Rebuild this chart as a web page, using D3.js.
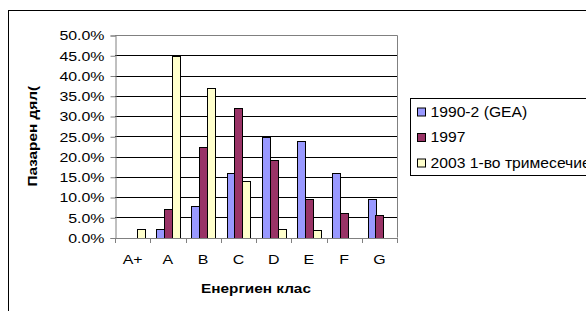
<!DOCTYPE html>
<html>
  <script src="https://d3js.org/d3.v7.js"></script>
  <style>
    body { margin: 0; background: #fff; }
    text { font-family: "Liberation Sans", Arial, sans-serif; fill: #000; }
  </style>
  <body>
    <svg id="chart" width="586" height="311"></svg>
    <script>
      // chart data
      const classes = ["A+", "A", "B", "C", "D", "E", "F", "G"];
      const seriesNames = ["1990-2 (GEA)", "1997", "2003 1-во тримесечие"];
      const gea = [0, 2.0, 7.9, 16.0, 24.8, 23.9, 16.0, 9.4];
      const y1997 = [0, 7.0, 22.4, 32.0, 19.1, 9.4, 6.1, 5.5];
      const y2003 = [2.1, 44.7, 36.9, 13.9, 2.1, 1.8, 0, 0];
      const yTicks = [0, 5, 10, 15, 20, 25, 30, 35, 40, 45, 50];
      const colors = ["#9999FF", "#993366", "#FFFFCC"];

      const seriesValues = [gea, y1997, y2003];
      const sx = 1.18; // the text in the picture is a bit stretched sideways

      const svg = d3.select("#chart");

      // outer chart border
      svg.append("rect")
        .attr("x", 8.5).attr("y", 10.5)
        .attr("width", 600).attr("height", 320)
        .attr("fill", "none").attr("stroke", "#000");

      const pLeft = 115, pRight = 397, pTop = 35, pBottom = 237.5;

      const x = d3.scaleBand().domain(classes).range([pLeft, pRight]);
      const xs = d3.scaleBand().domain(d3.range(seriesNames.length))
        .range([0, x.bandwidth()]).paddingInner(0).paddingOuter(0.75);
      const y = d3.scaleLinear().domain([0, 50]).range([pBottom, pTop]);

      // grid lines
      svg.append("g").selectAll("line")
        .data(yTicks.slice(1, -1))
        .join("line")
        .attr("x1", pLeft).attr("x2", pRight)
        .attr("y1", d => Math.round(y(d)) + 0.5)
        .attr("y2", d => Math.round(y(d)) + 0.5)
        .attr("stroke", "#000");

      // plot area border (top and right)
      svg.append("path")
        .attr("d", "M" + pLeft + "," + (Math.round(y(50)) + 0.5) + "H" + (pRight + 0.5) + "V" + pBottom)
        .attr("fill", "none").attr("stroke", "#808080");

      // bars
      seriesValues.forEach(function (vals, si) {
        svg.append("g").selectAll("rect")
          .data(vals.map((v, i) => ({ c: classes[i], v: v })).filter(d => d.v > 0))
          .join("rect")
          .attr("x", d => Math.round(x(d.c) + xs(si)) + 0.5)
          .attr("width", Math.round(xs.bandwidth()))
          .attr("y", d => Math.round(y(d.v)) + 0.5)
          .attr("height", d => Math.round(y(0)) - Math.round(y(d.v)))
          .attr("fill", colors[si])
          .attr("stroke", "#000");
      });

      // y axis
      const yAxis = svg.append("g")
        .attr("transform", "translate(" + (pLeft + 0.5) + ",0.5)")
        .call(d3.axisLeft(y).tickValues(yTicks).tickSize(5).tickPadding(6)
          .tickFormat(d => d.toFixed(1) + "%"));
      yAxis.select(".domain").attr("stroke", "#808080");
      yAxis.selectAll(".tick line").attr("stroke", "#808080");
      yAxis.selectAll(".tick text")
        .attr("font-size", 13.5)
        .attr("font-family", "Liberation Sans, Arial, sans-serif")
        .attr("transform", "scale(" + sx + ",1)")
        .attr("x", -11 / sx);

      // x axis
      const xAxis = svg.append("g")
        .attr("transform", "translate(0," + (pBottom + 0.5) + ")")
        .call(d3.axisBottom(x).tickSize(0).tickPadding(16));
      xAxis.select(".domain").attr("stroke", "#808080");
      xAxis.selectAll(".tick text")
        .attr("font-size", 13.5)
        .attr("font-family", "Liberation Sans, Arial, sans-serif")
        .attr("transform", "scale(" + sx + ",1)");
      // separators between categories
      xAxis.append("g").selectAll("line")
        .data(classes.concat(["end"]))
        .join("line")
        .attr("x1", (d, i) => Math.round(pLeft + i * x.step()) + 0.5)
        .attr("x2", (d, i) => Math.round(pLeft + i * x.step()) + 0.5)
        .attr("y1", 0).attr("y2", 5)
        .attr("stroke", "#808080");

      // axis titles
      svg.append("text")
        .attr("transform", "translate(37," + ((pTop + pBottom) / 2) + ") rotate(-90) scale(" + sx + ",1)")
        .attr("text-anchor", "middle")
        .attr("font-size", 13)
        .attr("font-weight", "bold")
        .text("Пазарен дял(");

      svg.append("text")
        .attr("transform", "translate(" + ((pLeft + pRight) / 2) + ",293) scale(" + sx + ",1)")
        .attr("text-anchor", "middle")
        .attr("font-size", 13)
        .attr("font-weight", "bold")
        .text("Енергиен клас");

      // legend
      const lg = svg.append("g").attr("transform", "translate(410.5,98.5)");
      lg.append("rect")
        .attr("width", 200).attr("height", 77)
        .attr("fill", "#fff").attr("stroke", "#000");
      const item = lg.selectAll("g.item")
        .data(seriesNames)
        .join("g")
        .attr("class", "item")
        .attr("transform", (d, i) => "translate(7," + (13.5 + i * 25.5) + ")");
      item.append("rect")
        .attr("x", 0).attr("y", -4)
        .attr("width", 8).attr("height", 8)
        .attr("fill", (d, i) => colors[i])
        .attr("stroke", "#000");
      item.append("text")
        .attr("transform", "translate(13,0) scale(1.12,1)")
        .attr("dy", "0.35em")
        .attr("font-size", 14)
        .text(d => d);
    </script>
  </body>
</html>
